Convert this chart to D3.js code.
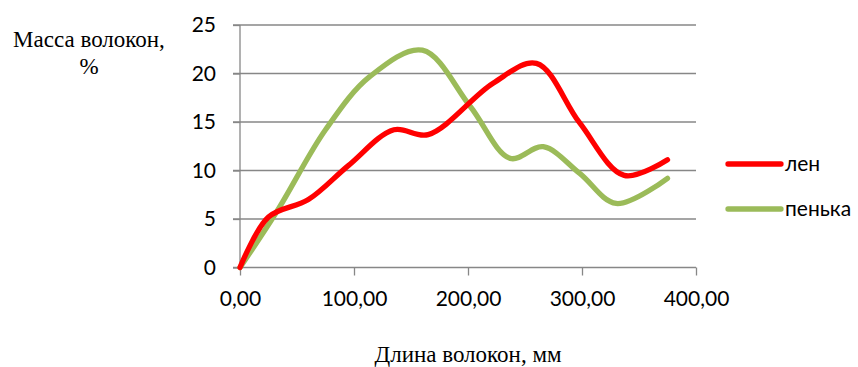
<!DOCTYPE html>
<html>
<head>
<meta charset="utf-8">
<script src="https://cdn.jsdelivr.net/npm/d3@7"></script>
<style>
  html, body { margin: 0; padding: 0; background: #fff; }
  svg { display: block; }
</style>
</head>
<body>
<svg id="chart" width="858" height="367"></svg>
<script>
// ---- data ----
const seriesNames = ["лен", "пенька"];
const lenX   = [0, 25, 60, 95, 135, 165, 222, 260, 298, 337, 375];
const lenY   = [0, 5.2, 7.0, 10.5, 14.2, 13.7, 19.0, 21.05, 14.9, 9.5, 11.1];
const penkaX = [0, 33, 75, 114, 160, 202, 237, 266, 298, 330, 375];
const penkaY = [0, 5.9, 14.2, 19.7, 22.4, 16.6, 11.25, 12.45, 9.7, 6.6, 9.2];
const xTicks = [0, 100, 200, 300, 400];
const yTicks = [0, 5, 10, 15, 20, 25];
const yTitleLines = ["Масса волокон,", "%"];
const xTitle = "Длина волокон, мм";
const colors = ["#FF0000", "#9BBB59"];

// ---- layout ----
const svg = d3.select("#chart");
const x = d3.scaleLinear().domain([0, 400]).range([240, 696]);
const y = d3.scaleLinear().domain([0, 25]).range([267.5, 25]);
const gridColor = "#878787";
const tickFont = "Lato, 'Open Sans', sans-serif";

// horizontal gridlines (with y ticks extending left)
svg.append("g").selectAll("line").data(yTicks.filter(d => d > 0)).join("line")
  .attr("x1", 233).attr("x2", 696)
  .attr("y1", d => y(d)).attr("y2", d => y(d))
  .attr("stroke", gridColor).attr("stroke-width", 1.3);

// y axis
const yAxis = d3.axisLeft(y).tickValues(yTicks).tickSize(7).tickPadding(17)
  .tickFormat(d3.format("d"));
const gy = svg.append("g").attr("transform", "translate(240,0)").call(yAxis);
gy.select(".domain").attr("stroke", gridColor).attr("stroke-width", 1.3)
  .attr("d", `M0,${y(25)}V${y(0)}`);
gy.selectAll(".tick line").attr("stroke", gridColor).attr("stroke-width", 1.3);
gy.selectAll(".tick text").attr("font-family", tickFont).attr("font-size", 21)
  .attr("fill", "#000");

// x axis
const xAxis = d3.axisBottom(x).tickValues(xTicks).tickSize(8).tickPadding(16)
  .tickFormat(d => d3.format(".2f")(d).replace(".", ","));
const gx = svg.append("g").attr("transform", `translate(0,${y(0)})`).call(xAxis);
gx.select(".domain").attr("stroke", gridColor).attr("stroke-width", 1.3)
  .attr("d", `M233,0H${x(400)}`);
gx.selectAll(".tick line").attr("stroke", gridColor).attr("stroke-width", 1.3);
gx.selectAll(".tick text").attr("font-family", tickFont).attr("font-size", 21)
  .attr("fill", "#000");

// series lines
const line = d3.line().x(d => x(d[0])).y(d => y(d[1])).curve(d3.curveCatmullRom.alpha(0.5));
const series = [
  d3.zip(lenX, lenY),
  d3.zip(penkaX, penkaY)
];
svg.append("path").datum(series[1]).attr("d", line)
  .attr("fill", "none").attr("stroke", colors[1]).attr("stroke-width", 5.3)
  .attr("stroke-linecap", "round").attr("stroke-linejoin", "round");
svg.append("path").datum(series[0]).attr("d", line)
  .attr("fill", "none").attr("stroke", colors[0]).attr("stroke-width", 5.3)
  .attr("stroke-linecap", "round").attr("stroke-linejoin", "round");

// legend
const legendY = [164, 209];
const lg = svg.append("g").selectAll("g").data(seriesNames).join("g")
  .attr("transform", (d, i) => `translate(0,${legendY[i]})`);
lg.append("line").attr("x1", 728).attr("x2", 781).attr("y1", 0).attr("y2", 0)
  .attr("stroke", (d, i) => colors[i]).attr("stroke-width", 5.3)
  .attr("stroke-linecap", "round");
lg.append("text").attr("x", 785).attr("y", 0).attr("dy", "0.35em")
  .attr("font-family", tickFont).attr("font-size", 21).attr("fill", "#000")
  .text(d => d);

// titles
svg.append("g").selectAll("text").data(yTitleLines).join("text")
  .attr("x", 89).attr("y", (d, i) => 46.7 + i * 27)
  .attr("text-anchor", "middle")
  .attr("font-family", "'Liberation Serif', 'Times New Roman', serif")
  .attr("font-size", 23).attr("fill", "#000")
  .text(d => d);
svg.append("text").attr("x", 468).attr("y", 361.5)
  .attr("text-anchor", "middle")
  .attr("font-family", "'Liberation Serif', 'Times New Roman', serif")
  .attr("font-size", 23).attr("fill", "#000")
  .text(xTitle);
</script>
</body>
</html>
